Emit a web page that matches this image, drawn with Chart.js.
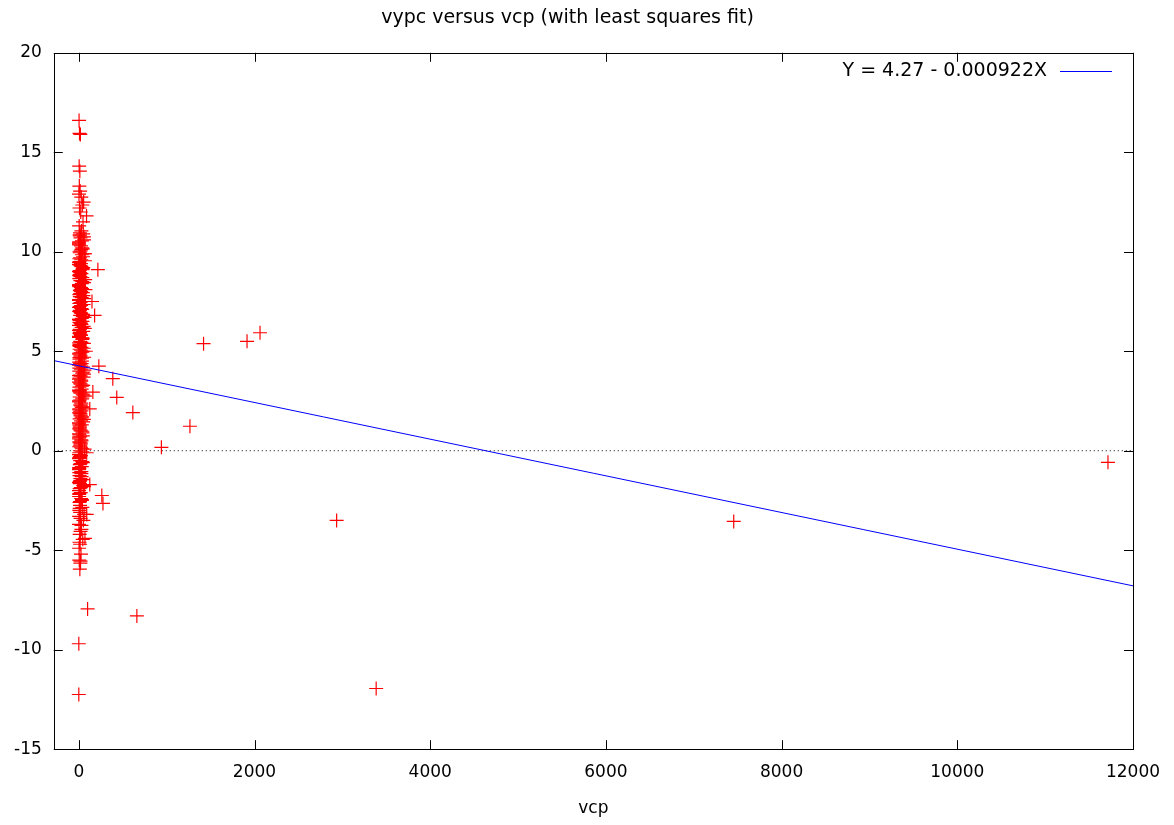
<!DOCTYPE html>
<html>
<head>
<meta charset="utf-8">
<script src="https://cdn.jsdelivr.net/npm/chart.js@4"></script>
<style>
  html, body { margin: 0; padding: 0; background: #fff; }
  canvas { display: block; }
</style>
</head>
<body>
<canvas id="fit-chart" width="1174" height="825"></canvas>
<script>
// data
const vcp = [
  3, 8, 18, 4, 12, 6, 15, 2, 28, 55, 40, 8, 22, 88, 48, 4, 30, 12, 60, 2,
  25, 45, 8, 35, 15, 70, 3, 20, 50, 10, 30, 5, 40, 18, 60, 2, 25, 12, 45, 7,
  33, 3, 20, 55, 10, 38, 4, 28, 15, 65, 6, 42, 22, 2, 32, 12, 50, 8, 25, 3,
  40, 16, 58, 5, 30, 10, 45, 2, 20, 62, 8, 35, 14, 3, 48, 24, 6, 38, 12, 55,
  2, 28, 16, 44, 7, 32, 4, 20, 52, 10, 36, 2, 25, 14, 46, 6, 30, 3, 18, 40,
  9, 26, 2, 34, 12, 5, 22, 42, 8, 16, 3, 30, 10, 20, 4, 36, 14, 6, 24, 2,
  40, 12, 5, 28, 8, 18, 3, 50, 10, 22, 4, 35, 14, 6, 60, 20, 2, 30, 10, 45,
  15, 3, 25, 5, 18, 12, 0, 0, 100,
  50, 20, 5, 38, 12, 28, 2, 42, 16, 6, 34, 20, 52, 3, 26, 14, 46, 8, 30, 2,
  20, 44, 10, 26, 4, 36, 16, 6, 50, 22, 2, 34, 12, 40, 5, 24, 14, 32, 4, 18,
  46, 7, 26, 2, 16, 34, 6, 44, 12, 2, 26, 8, 40, 16, 4, 70, 30, 8, 20, 60,
  90, 125, 90, 150, 180, 228, 160, 125, 80, 75, 70,
  10, 36, 4, 22, 48, 8, 30, 2, 18, 40, 6, 26, 12, 44, 3, 20, 34, 8, 54, 14,
  2, 30, 10, 40, 18, 4, 28, 60, 8, 20, 2, 44, 14, 30, 6, 22, 50, 10, 2, 28,
  14, 38, 6, 20, 3, 32, 10, 24, 5, 14,
  14, 58, 2, 30, 66, 6, 24, 44, 10, 72, 3, 36, 16, 62, 6, 28, 48, 2, 20, 68,
  12, 38, 4, 56, 18, 8, 32, 64, 2, 26, 50, 12, 70, 4, 34, 18, 58, 8, 40, 2,
  24, 66, 12, 46, 4, 30, 16, 60, 6, 36, 10, 52, 20,
  262, 275, 217, 387, 432, 615, 661, 940, 1265, 1420, 1915, 2063, 2935, 3385, 7455, 11715
];
const vypc = [
  16.6, 15.95, 15.9, 14.3, 14.05, 13.3, 13.05, 12.9, 12.75, 12.5, 12.35, 12.2, 12.0, 11.8, 11.5, 11.3, 11.05, 10.8, 10.6, 10.45,
  10.3, 10.15, 10.0, 9.85, 9.7, 9.55, 9.45, 9.3, 9.2, 9.05, 8.9, 8.8, 8.7, 8.55, 8.45, 8.3, 8.2, 8.05, 7.95, 7.85,
  7.7, 7.6, 7.45, 7.35, 7.25, 7.1, 7.0, 6.9, 6.8, 6.7, 6.6, 6.5, 6.4, 6.3, 6.2, 6.1, 6.0, 5.9, 5.8, 5.7,
  5.6, 5.5, 5.4, 5.3, 5.2, 5.1, 5.0, 4.9, 4.8, 4.7, 4.6, 4.5, 4.4, 4.3, 4.2, 4.1, 4.0, 3.9, 3.8, 3.7,
  3.6, 3.5, 3.4, 3.3, 3.2, 3.1, 3.0, 2.9, 2.8, 2.7, 2.6, 2.5, 2.4, 2.3, 2.2, 2.1, 2.0, 1.9, 1.8, 1.7,
  1.6, 1.5, 1.4, 1.3, 1.2, 1.1, 1.0, 0.9, 0.8, 0.7, 0.6, 0.5, 0.4, 0.3, 0.2, 0.1, 0.0, -0.1, -0.25, -0.4,
  -0.55, -0.7, -0.9, -1.05, -1.25, -1.4, -1.6, -1.75, -1.9, -2.1, -2.3, -2.5, -2.75, -3.0, -3.2, -3.4, -3.7, -3.95, -4.2, -4.45,
  -4.7, -4.9, -5.2, -5.5, -5.65, -5.95, -9.7, -12.25, -7.95,
  10.9, 10.7, 10.5, 10.2, 9.95, 9.6, 9.35, 9.1, 8.95, 8.65, 8.4, 8.1, 7.8, 7.55, 7.3, 7.05, 6.75, 6.55, 6.35, 6.05,
  5.85, 5.65, 5.35, 5.05, 4.85, 4.65, 4.35, 4.15, 3.95, 3.75, 3.45, 3.25, 2.95, 2.65, 2.45, 2.25, 1.95, 1.65, 1.35, 1.05,
  0.75, 0.45, 0.15, -0.2, -0.5, -0.8, -1.1, -1.45, -1.65, -2.0, -2.4, -2.6, -2.85, -3.1, -3.3, -4.4, -3.75, -4.6, -5.55, -1.7,
  -0.1, -1.7, -3.2, 7.5, 6.8, 4.25, 2.95, 2.1, 5.0, 8.1, 9.9,
  10.85, 10.55, 10.35, 10.05, 9.75, 9.5, 9.25, 9.0, 8.75, 8.5, 8.25, 8.0, 7.75, 7.5, 7.2, 6.95, 6.65, 6.45, 6.25, 5.95,
  5.75, 5.45, 5.25, 4.95, 4.75, 4.45, 4.25, 3.85, 3.65, 3.35, 3.05, 2.85, 2.55, 2.35, 2.05, 1.75, 1.45, 1.15, 0.85, 0.55,
  0.25, -0.05, -0.35, -0.65, -0.95, -1.3, -1.55, -1.85, -2.2, -2.55,
  10.95, 10.75, 10.4, 10.12, 9.9, 9.65, 9.4, 9.15, 8.85, 8.6, 8.35, 8.15, 7.9, 7.65, 7.4, 7.15, 6.85, 6.6, 6.42, 6.15,
  5.95, 5.68, 5.42, 5.15, 4.92, 4.68, 4.38, 4.05, 3.78, 3.55, 3.28, 3.02, 2.75, 2.5, 2.18, 1.88, 1.58, 1.28, 0.98, 0.68,
  0.38, 0.08, -0.3, -0.6, -0.85, -1.15, -1.5, -1.8, -2.15, -2.45, -2.9, -3.5, -4.05,
  -2.25, -2.65, 9.1, 3.62, 2.68, 1.92, -8.3, 0.17, 1.23, 5.38, 5.5, 5.93, -3.5, -11.95, -3.55, -0.58
];

// least squares line, ends at the edges of the x range
const fitLabel = 'Y = 4.27 - 0.000922X';
const fitX = [-285, 12000];
const fitY = [4.53, -6.79];
const zeroX = [-285, 12000];
const zeroY = [0, 0];

const xTicks = [0, 2000, 4000, 6000, 8000, 10000, 12000];
const yTicks = [-15, -10, -5, 0, 5, 10, 15, 20];

const FAMILY = "'DejaVu Sans', sans-serif";
const TICK_FONT = { family: FAMILY, size: 17 };
const BIG_FONT = { family: FAMILY, size: 19, weight: 'normal' };

// gnuplot-like frame with inward ticks, mirrored on top and right
const framePlugin = {
    id: 'frame',
    afterDraw(chart) {
        const { ctx, chartArea: a, scales } = chart;
        ctx.save();
        ctx.strokeStyle = '#000';
        ctx.lineWidth = 1;
        ctx.beginPath();
        xTicks.forEach(v => {
            const x = Math.round(scales.x.getPixelForValue(v)) + 0.5;
            ctx.moveTo(x, a.bottom); ctx.lineTo(x, a.bottom - 9);
            ctx.moveTo(x, a.top); ctx.lineTo(x, a.top + 9);
        });
        yTicks.forEach(v => {
            const y = Math.round(scales.y.getPixelForValue(v)) + 0.5;
            ctx.moveTo(a.left, y); ctx.lineTo(a.left + 9, y);
            ctx.moveTo(a.right, y); ctx.lineTo(a.right - 9, y);
        });
        ctx.stroke();
        ctx.strokeRect(Math.round(a.left) + 0.5, Math.round(a.top) + 0.5,
            Math.round(a.right - a.left), Math.round(a.bottom - a.top));

        // key in the top right corner: text then line sample
        ctx.font = BIG_FONT.size + 'px ' + FAMILY;
        ctx.fillStyle = '#000';
        ctx.textAlign = 'right';
        ctx.textBaseline = 'middle';
        const ky = a.top + 18;
        ctx.fillText(fitLabel, a.right - 86, ky);
        ctx.strokeStyle = '#0000ff';
        ctx.beginPath();
        ctx.moveTo(a.right - 73, Math.round(ky) + 0.5);
        ctx.lineTo(a.right - 21, Math.round(ky) + 0.5);
        ctx.stroke();
        ctx.restore();
    }
};

const ctx = document.getElementById('fit-chart').getContext('2d');

const fitChart = new Chart(ctx, {
    type: 'scatter',
    data: {
        datasets: [
            {
                label: fitLabel,
                data: fitX.map((x, i) => ({ x: x, y: fitY[i] })),
                showLine: true,
                borderColor: '#0000ff',
                borderWidth: 1,
                pointRadius: 0,
                order: 0
            },
            {
                label: 'vypc',
                data: vcp.map((x, i) => ({ x: x, y: vypc[i] })),
                pointStyle: 'cross',
                pointRadius: 7,
                pointBorderColor: 'rgb(255, 0, 0)',
                pointBackgroundColor: 'rgb(255, 0, 0)',
                borderColor: 'rgb(255, 0, 0)',
                pointBorderWidth: 1.2,
                order: 1
            },
            {
                label: 'zero',
                data: zeroX.map((x, i) => ({ x: x, y: zeroY[i] })),
                showLine: true,
                borderColor: '#000',
                borderWidth: 1,
                borderDash: [1, 3],
                pointRadius: 0,
                order: 2
            }
        ]
    },
    options: {
        responsive: false,
        animation: false,
        devicePixelRatio: 1,
        layout: { padding: { left: 2, right: 41, top: 0, bottom: 6 } },
        scales: {
            x: {
                type: 'linear',
                min: -285,
                max: 12000,
                afterBuildTicks: s => { s.ticks = xTicks.map(v => ({ value: v })); },
                grid: { display: false, drawTicks: false },
                border: { display: false },
                ticks: { color: '#000', font: TICK_FONT, padding: 13, maxRotation: 0, callback: v => String(v) },
                title: { display: true, text: 'vcp', color: '#000', font: TICK_FONT, padding: { top: 3, bottom: 0 } }
            },
            y: {
                type: 'linear',
                min: -15,
                max: 20,
                afterBuildTicks: s => { s.ticks = yTicks.map(v => ({ value: v })); },
                grid: { display: false, drawTicks: false },
                border: { display: false },
                ticks: { color: '#000', font: TICK_FONT, padding: 12, callback: v => String(v) }
            }
        },
        plugins: {
            legend: { display: false },
            tooltip: { enabled: false },
            title: {
                display: true,
                text: 'vypc versus vcp (with least squares fit)',
                color: '#000',
                font: BIG_FONT,
                padding: { top: 7, bottom: 23 }
            }
        }
    },
    plugins: [framePlugin]
});
</script>
</body>
</html>
